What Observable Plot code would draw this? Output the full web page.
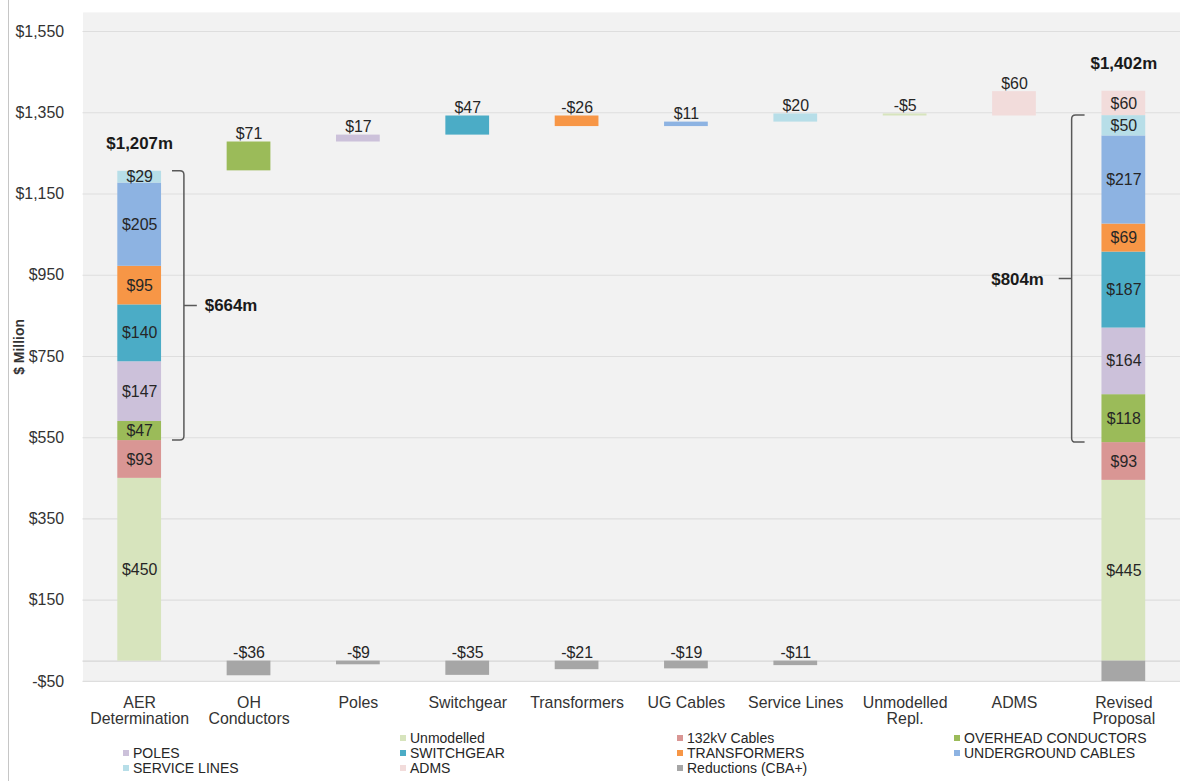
<!DOCTYPE html>
<html><head><meta charset="utf-8">
<script src="https://cdn.jsdelivr.net/npm/d3@7"></script>
<script src="https://cdn.jsdelivr.net/npm/@observablehq/plot@0.6"></script>
<style>
html,body{margin:0;padding:0;background:#fff;overflow:hidden;width:1180px;height:781px}
#wrap{position:relative;width:1180px;height:781px;overflow:hidden;font-family:"Liberation Sans",Arial,sans-serif;color:#262626}
#border{position:absolute;left:8px;top:0;width:1px;height:781px;background:#c6c6c6}
#chart{position:absolute;left:0;top:0}
#legend{position:absolute;left:0;top:731px;width:1180px;height:50px;font-size:14px}
.li{position:absolute;white-space:nowrap;line-height:15px;height:15px}
.sw{display:inline-block;width:6px;height:6px;margin-right:4px;vertical-align:middle;position:relative;top:-1px}
g[aria-label="y-axis label"] text{font-weight:bold;font-size:14px}
</style>
</head><body>
<div id="wrap"><div id="border"></div><div id="chart"></div><div id="legend"></div></div>
<script>
// ---- data ----
const categories = ["AER Determination","OH Conductors","Poles","Switchgear","Transformers","UG Cables","Service Lines","Unmodelled Repl.","ADMS","Revised Proposal"];
const xTickLabels = ["AER\nDetermination","OH\nConductors","Poles","Switchgear","Transformers","UG Cables","Service Lines","Unmodelled\nRepl.","ADMS","Revised\nProposal"];
const series = ["Unmodelled","132kV Cables","OVERHEAD CONDUCTORS","POLES","SWITCHGEAR","TRANSFORMERS","UNDERGROUND CABLES","SERVICE LINES","ADMS","Reductions (CBA+)"];
const colors = ["#d7e4bd","#d99694","#9bbb59","#ccc1da","#4bacc6","#f79646","#8db3e2","#b7dee8","#f2dcdb","#a6a6a6"];
const aerValues = [450,93,47,147,140,95,205,29,0];
const revisedValues = [445,93,118,164,187,69,217,50,60];
const deltaCategories = ["OH Conductors","Poles","Switchgear","Transformers","UG Cables","Service Lines","Unmodelled Repl.","ADMS"];
const deltaSeries = ["OVERHEAD CONDUCTORS","POLES","SWITCHGEAR","TRANSFORMERS","UNDERGROUND CABLES","SERVICE LINES","Unmodelled","ADMS"];
const deltaValues = [71,17,47,-26,11,20,-5,60];
const reductionCategories = ["OH Conductors","Poles","Switchgear","Transformers","UG Cables","Service Lines","Revised Proposal"];
const reductionValues = [-36,-9,-35,-21,-19,-11,-131];
const reductionLabelled = [true,true,true,true,true,true,false];
const totalCategories = ["AER Determination","Revised Proposal"];
const totalValues = [1207,1402];
const bracketValues = [664,804];
const bracketFrom = ["OVERHEAD CONDUCTORS","OVERHEAD CONDUCTORS"];
const bracketTo = ["SERVICE LINES","SERVICE LINES"];
const bracketSide = ["right","left"];
const yTicks = [-50,150,350,550,750,950,1150,1350,1550];

// ---- derived tables ----
function stack(cat, vals) {
  let acc = 0;
  return vals.map((v, i) => { const s = {cat, series: series[i], value: v, y1: acc, y2: acc + v}; acc += v; return s; });
}
const aerStack = stack(categories[0], aerValues);
const revStack = stack(categories[9], revisedValues);
const stackSegs = aerStack.concat(revStack);
let base = totalValues[0];
const deltaSegs = deltaValues.map((v, i) => { const s = {cat: deltaCategories[i], series: deltaSeries[i], value: v, y1: base, y2: base + v}; base += v; return s; });
const reductions = reductionValues.map((v, i) => ({cat: reductionCategories[i], series: "Reductions (CBA+)", value: v, labelled: reductionLabelled[i]}));
const stacks = [aerStack, revStack];
const totals = totalCategories.map((c, i) => ({cat: c, value: totalValues[i], top: d3.sum(stacks[i], d => d.value)}));
const brackets = totalCategories.map((c, i) => {
  const st = stacks[i];
  const lo = st.find(d => d.series === bracketFrom[i]).y1;
  const hi = st.find(d => d.series === bracketTo[i]).y2;
  return {cat: c, lo, hi, value: bracketValues[i], side: bracketSide[i]};
});

const fmtAxis = d => (d < 0 ? "-$" : "$") + d3.format(",")(Math.abs(d));
const fmtSigned = v => (v < 0 ? "-$" : "$") + Math.abs(v);

function bracketMark(data) {
  return (index, scales) => {
    const x = scales.x, y = scales.y;
    const bw = x.bandwidth ? x.bandwidth() : 0;
    const g = d3.create("svg:g").attr("fill", "none");
    const r = 4;
    for (const b of data) {
      const yHi = y(b.hi), yLo = y(b.lo), yMid = (yHi + yLo) / 2;
      const s = b.side === "right" ? 1 : -1;
      const edge = b.side === "right" ? x(b.cat) + bw : x(b.cat);
      const xh = edge + s * (b.side === "right" ? 11 : 17);
      const xv = edge + s * (b.side === "right" ? 23 : 30);
      const path = `M${xh},${yHi}H${xv - s * r}Q${xv},${yHi} ${xv},${yHi + r}V${yLo - r}Q${xv},${yLo} ${xv - s * r},${yLo}H${xh}` +
        `M${xv},${yMid}H${xv + s * 13}`;
      g.append("path").attr("d", path).attr("stroke", "#595959").attr("stroke-width", 1.5);
      g.append("text").attr("x", xv + s * (b.side === "right" ? 21 : 28)).attr("y", yMid).attr("dy", "0.35em")
        .attr("text-anchor", b.side === "right" ? "start" : "end")
        .attr("fill", "#1a1a1a").attr("font-weight", "bold").attr("font-size", 17)
        .text("$" + b.value + "m");
    }
    return g.node();
  };
}

const chart = Plot.plot({
  width: 1187, height: 728,
  marginLeft: 83, marginRight: 0, marginTop: 12, marginBottom: 43,
  style: {fontFamily: "'Liberation Sans', Arial, sans-serif", fontSize: "16px", color: "#333", background: "transparent", overflow: "visible"},
  x: {domain: categories, paddingInner: 0.6, paddingOuter: 0.3, tickSize: 0, tickPadding: 15,
      tickFormat: d => xTickLabels[categories.indexOf(d)], label: null},
  y: {domain: [-50, 1597], ticks: yTicks, tickFormat: fmtAxis, tickSize: 0, tickPadding: 19,
      label: "$ Million", labelAnchor: "center", labelOffset: 69, labelArrow: "none"},
  color: {domain: series, range: colors},
  marks: [
    Plot.frame({fill: "#f2f2f2", stroke: null}),
    Plot.ruleY(yTicks, {stroke: "#dedede", strokeWidth: 1.2}),
    Plot.ruleY([0], {stroke: "#d6d6d6", strokeWidth: 1.2}),
    Plot.barY(stackSegs.filter(d => d.value > 0), {x: "cat", y1: "y1", y2: "y2", fill: "series"}),
    Plot.barY(deltaSegs, {x: "cat", y1: "y1", y2: "y2", fill: "series"}),
    Plot.barY(reductions, {x: "cat", y1: 0, y2: "value", fill: "series", clip: true}),
    Plot.text(stackSegs.filter(d => d.value > 0), {x: "cat", y: d => (d.y1 + d.y2) / 2, text: d => "$" + d.value, fill: "#262626"}),
    Plot.text(deltaSegs, {x: "cat", y: d => Math.max(d.y1, d.y2), text: d => fmtSigned(d.value), lineAnchor: "bottom", dy: -3, fill: "#262626"}),
    Plot.text(reductions.filter(d => d.labelled), {x: "cat", y: 0, text: d => fmtSigned(d.value), lineAnchor: "bottom", dy: -3, fill: "#262626"}),
    Plot.text(totals, {x: "cat", y: "top", text: d => "$" + d3.format(",")(d.value) + "m", lineAnchor: "bottom", dy: -22, fontWeight: "bold", fontSize: 17, fill: "#1a1a1a"}),
    bracketMark(brackets)
  ]
});
document.getElementById("chart").appendChild(chart);

// legend
const legend = document.getElementById("legend");
series.forEach((s, i) => {
  const slot = i + 1, col = slot % 4, row = Math.floor(slot / 4);
  const el = document.createElement("div");
  el.className = "li";
  el.style.left = (123 + col * 277) + "px";
  el.style.top = (row * 15) + "px";
  el.innerHTML = `<span class="sw" style="background:${colors[i]}"></span>${s}`;
  legend.appendChild(el);
});
</script>
</body></html>
